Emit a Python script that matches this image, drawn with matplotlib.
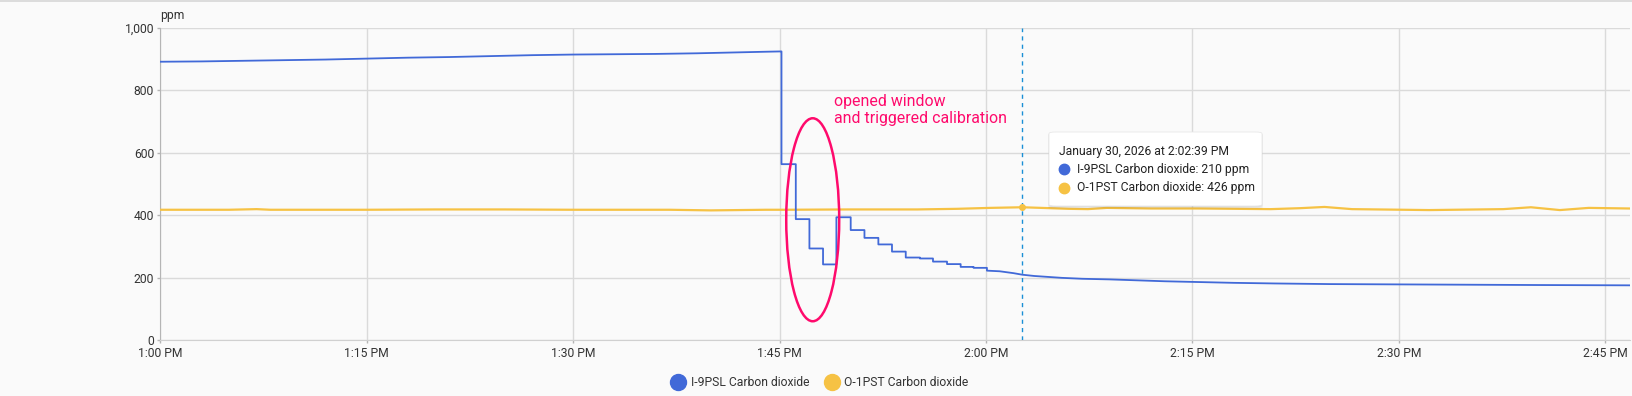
import matplotlib.pyplot as plt
from matplotlib.lines import Line2D
from matplotlib.patches import Ellipse, FancyBboxPatch, Rectangle
from matplotlib.ticker import FixedLocator, StrMethodFormatter
import numpy as np

plt.rcParams['font.family'] = ['Roboto', 'DejaVu Sans']

# minutes after 1:00 PM
x_max = 106.8
x_ticks = [0, 15, 30, 45, 60, 75, 90, 105]
x_labels = ['1:00 PM', '1:15 PM', '1:30 PM', '1:45 PM',
            '2:00 PM', '2:15 PM', '2:30 PM', '2:45 PM']
y_ticks = [0, 200, 400, 600, 800, 1000]

# I-9PSL (indoor sensor)
blue_t = [0, 3, 6, 9, 12, 15, 18, 21, 24, 27, 30, 33, 36, 39, 42, 44, 45.1,
          45.14, 46.18, 47.17, 48.16, 49.13, 50.17, 51.17, 52.18, 53.17,
          54.17, 55.2, 56.15, 57.17, 58.16, 59.1, 60.07, 61.0, 62.0, 62.65,
          63.5, 64.5, 65.5, 67, 69, 71, 73, 75, 78, 81, 85, 90, 95, 100, 106.8]
blue_v = [892, 893, 895, 897, 899, 902, 905, 907, 910, 913, 915, 916, 917, 919, 922, 924, 925,
          564, 388, 294, 243, 394, 353, 328, 307, 284,
          265, 262, 252, 244, 235, 232, 223, 221, 215, 210,
          206, 203, 200, 197, 195, 192, 189, 187, 184, 182, 180, 179, 178, 177, 176]
# readings between these times were held (stepped) during calibration
step_start, step_end = 45.1, 60.07

# O-1PST (outdoor sensor)
yellow_t = [0, 5, 7, 8, 15, 20, 25, 30, 37, 40, 42, 44, 45.5, 50, 55, 57.9, 60.3,
            62.65, 64.7, 66, 67.4, 68.8, 72, 75.4, 80.7, 82.8, 84.6, 86.6, 92.2,
            97.6, 99.6, 101.7, 103.8, 106.8]
yellow_v = [418, 418, 420, 418, 418, 419, 419, 418, 418, 416, 417, 418, 418, 419, 419, 421, 424,
            426, 423, 421, 420, 424, 422, 422, 420, 423, 427, 420, 417,
            420, 426, 417, 424, 422]

hover_t = 62.65
hover_label = 'January 30, 2026 at 2:02:39 PM'
blue_name = 'I-9PSL Carbon dioxide'
yellow_name = 'O-1PST Carbon dioxide'

BLUE = '#4169d8'
YELLOW = '#f6c244'
PINK = '#ff0a6c'

# build the path: smooth outside the calibration window, stepped inside it
px, py = [blue_t[0]], [blue_v[0]]
for i in range(1, len(blue_t)):
    if step_start <= blue_t[i - 1] < step_end:
        px.append(blue_t[i])
        py.append(blue_v[i - 1])
    px.append(blue_t[i])
    py.append(blue_v[i])

fig = plt.figure(figsize=(16.32, 3.96), dpi=100, facecolor='#fafafa')
ax = fig.add_axes([160.3 / 1632, 1 - 340.3 / 396, (1630 - 160.3) / 1632, 312.3 / 396])
ax.set_facecolor('#fafafa')

ax.plot(yellow_t, yellow_v, color=YELLOW, lw=1.6, zorder=3)
ax.plot(px, py, color=BLUE, lw=1.3, zorder=4)

ax.set_xlim(0, x_max)
ax.set_ylim(0, 1000)
ax.xaxis.set_major_locator(FixedLocator(x_ticks))
ax.set_xticklabels(x_labels)
ax.yaxis.set_major_locator(FixedLocator(y_ticks))
ax.yaxis.set_major_formatter(StrMethodFormatter('{x:,.0f}'))
ax.grid(True, color='#dadada', lw=1)
ax.set_axisbelow(True)
for s in ['top', 'right']:
    ax.spines[s].set_visible(False)
ax.spines['left'].set_color('#b5b5b5')
ax.spines['bottom'].set_color('#d0d0d0')
ax.tick_params(colors='#b5b5b5', labelcolor='#333333', labelsize=8.7, length=2.5, width=1, pad=2)
fig.text(160.3 / 1632, 1 - 15.3 / 396, 'ppm', fontsize=8.7, color='#333333', ha='left', va='center')

# hover line and point
ax.axvline(hover_t, color='#1a8fd6', lw=1, ls=(0, (3, 3)), zorder=5)
hy = np.interp(hover_t, yellow_t, yellow_v)
ax.plot([hover_t], [hy], 'o', color=YELLOW, ms=4, zorder=6)

# annotation
ax.add_patch(Ellipse((47.41, 386), 3.85, 650, fill=False, ec=PINK, lw=1.8, zorder=7))
ax.text(48.94, 738, 'opened window\nand triggered calibration', color=PINK, fontsize=11.4,
        ha='left', va='center', linespacing=1.12, zorder=7)

# tooltip box
for i, a in enumerate([0.05, 0.04, 0.03]):
    d = (i + 1) * 1.0
    fig.patches.append(FancyBboxPatch(((1049 - d * 0.3) / 1632, (396 - 206 - d) / 396),
                                      (213 + d * 0.6) / 1632, (74 + d * 0.5) / 396,
                                      boxstyle='round,pad=0,rounding_size=0.004',
                                      transform=fig.transFigure, fc='black', ec='none',
                                      alpha=a, zorder=8))
fig.patches.append(FancyBboxPatch((1049 / 1632, (396 - 206) / 396), 213 / 1632, 74 / 396,
                                  boxstyle='round,pad=0,rounding_size=0.004',
                                  transform=fig.transFigure, fc='white', ec='#e8e8e8',
                                  lw=0.6, zorder=9))
hb = blue_v[blue_t.index(hover_t)]
fig.text(1059 / 1632, 1 - 151.7 / 396, hover_label, fontsize=8.7, color='#222222',
         va='center', zorder=10)
for yy, c, txt in [(169.3, BLUE, f'{blue_name}: {hb} ppm'),
                   (187.7, YELLOW, f'{yellow_name}: {round(hy)} ppm')]:
    fig.add_artist(Line2D([1063.7 / 1632], [1 - yy / 396], marker='o', ms=7.5, color=c,
                          transform=fig.transFigure, zorder=10))
    fig.text(1076.6 / 1632, 1 - yy / 396, txt, fontsize=8.7, color='#222222',
             va='center', zorder=10)

# legend
handles = [Line2D([], [], ls='none', marker='o', ms=11.5, color=BLUE),
           Line2D([], [], ls='none', marker='o', ms=11.5, color=YELLOW)]
fig.legend(handles, [blue_name, yellow_name], loc='center', bbox_to_anchor=(819.5 / 1632, 1 - 383 / 396),
           ncol=2, frameon=False, fontsize=8.7, handletextpad=0.4, columnspacing=1.2,
           handlelength=1.3, labelcolor='#333333')

# top border
fig.patches.append(Rectangle((0, 1 - 2 / 396), 1, 2 / 396, transform=fig.transFigure,
                             fc='#dcdcdc', ec='none'))

fig.savefig('out.png', dpi=100, facecolor=fig.get_facecolor())
